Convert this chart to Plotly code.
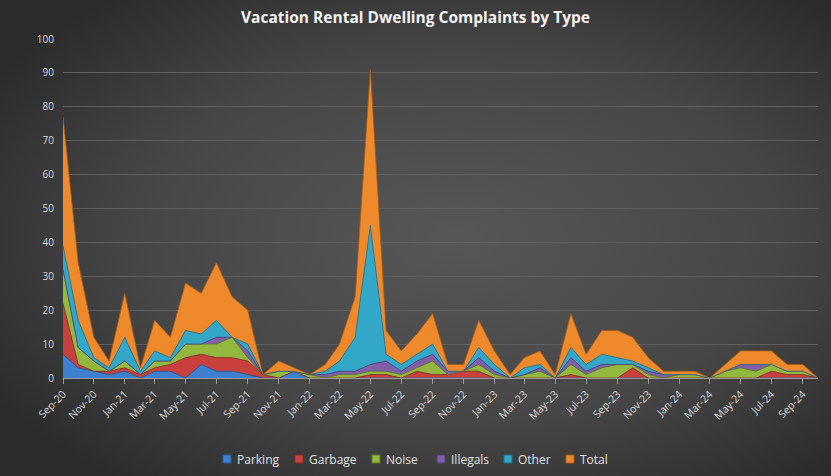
import base64
import pandas as pd
import plotly.graph_objects as go

months = pd.date_range("2020-09-01", periods=50, freq="MS")

parking  = [7, 3, 2, 1, 2, 0, 2, 2, 0, 4, 2, 2, 1, 0, 0, 2, 0, 0, 0, 0,
            0, 0, 0, 0, 0, 0, 0, 0, 0, 0, 0, 0, 0, 0, 0, 0, 0, 0, 0, 0,
            0, 0, 0, 0, 0, 0, 0, 0, 0, 0]
garbage  = [15, 1, 0, 1, 1, 1, 1, 2, 6, 3, 4, 4, 4, 1, 0, 0, 0, 0, 0, 0,
            1, 1, 0, 2, 1, 1, 2, 2, 0, 0, 0, 0, 0, 1, 0, 0, 0, 3, 0, 0,
            0, 0, 0, 0, 0, 0, 2, 1, 1, 0]
noise    = [10, 5, 3, 0, 2, 0, 2, 1, 4, 3, 4, 6, 1, 0, 2, 0, 1, 0, 1, 1,
            1, 1, 1, 1, 4, 0, 0, 2, 1, 0, 1, 2, 0, 3, 1, 3, 4, 1, 1, 0,
            1, 1, 0, 2, 3, 2, 2, 1, 1, 0]
illegals = [0, 0, 0, 0, 0, 0, 0, 0, 0, 0, 2, 0, 2, 0, 0, 0, 0, 1, 1, 1,
            2, 3, 1, 2, 2, 1, 0, 2, 1, 0, 0, 1, 0, 2, 1, 1, 0, 0, 1, 1,
            0, 0, 0, 0, 1, 2, 0, 0, 0, 0]
other    = [7, 8, 1, 1, 7, 1, 3, 1, 4, 3, 5, 0, 2, 0, 0, 0, 0, 1, 3, 10,
            41, 2, 2, 2, 3, 0, 0, 3, 2, 0, 2, 1, 0, 3, 2, 3, 2, 1, 1, 0,
            0, 0, 0, 0, 0, 0, 0, 0, 0, 0]
total    = [38, 17, 6, 2, 13, 1, 9, 6, 14, 12, 17, 12, 10, 0, 3, 1, 0, 2, 5, 12,
            46, 7, 4, 6, 9, 2, 2, 8, 4, 1, 3, 4, 1, 10, 3, 7, 8, 7, 3, 1,
            1, 1, 0, 2, 4, 4, 4, 2, 2, 0]

tick_dates = months[::2]
tick_labels = ["Sep-20", "Nov-20", "Jan-21", "Mar-21", "May-21", "Jul-21", "Sep-21",
               "Nov-21", "Jan-22", "Mar-22", "May-22", "Jul-22", "Sep-22", "Nov-22",
               "Jan-23", "Mar-23", "May-23", "Jul-23", "Sep-23", "Nov-23", "Jan-24",
               "Mar-24", "May-24", "Jul-24", "Sep-24"]

series = [
    ("Parking", parking, "#3f7fcf", "#2a5a99"),
    ("Garbage", garbage, "#c8413c", "#8a2a27"),
    ("Noise", noise, "#92b83f", "#607a2a"),
    ("Illegals", illegals, "#7f5faa", "#553f75"),
    ("Other", other, "#33a7c8", "#1f7290"),
    ("Total", total, "#ee8a2c", "#a85a18"),
]

W, H = 831, 476
L, R, T, B = 63, 13, 39, 98
pw, ph = W - L - R, H - T - B

fig = go.Figure()
for name, vals, col, edge in series:
    fig.add_trace(go.Scatter(
        x=months, y=vals, name=name, mode="lines", stackgroup="one",
        fillcolor=col, line=dict(color=edge, width=0.8), showlegend=False,
    ))

# custom legend (small square markers + labels), positions in pixels
legend_icon_x = [223, 295, 372, 437, 504, 566]
legend_y = 459
shapes, annotations = [], []
for (name, _, col, edge), ix in zip(series, legend_icon_x):
    x0 = (ix - L) / pw
    x1 = (ix + 8 - L) / pw
    y0 = (H - B - (legend_y + 4)) / ph
    y1 = (H - B - (legend_y - 4)) / ph
    shapes.append(dict(type="rect", xref="paper", yref="paper", x0=x0, x1=x1,
                       y0=y0, y1=y1, fillcolor=col, line=dict(color=edge, width=1)))
    annotations.append(dict(text=name, xref="paper", yref="paper",
                            x=(ix + 12 - L) / pw, y=(H - B - legend_y) / ph,
                            xanchor="left", yanchor="middle", showarrow=False,
                            font=dict(family="Open Sans", size=12, color="#e0e0e0")))

svg = f'''<svg xmlns="http://www.w3.org/2000/svg" width="{W}" height="{H}" viewBox="0 0 {W} {H}">
<defs><radialGradient id="g" cx="55%" cy="50%" r="65%">
<stop offset="0%" stop-color="#575757"/><stop offset="60%" stop-color="#464646"/>
<stop offset="100%" stop-color="#2c2c2c"/></radialGradient></defs>
<rect width="{W}" height="{H}" fill="url(#g)"/></svg>'''
uri = "data:image/svg+xml;base64," + base64.b64encode(svg.encode()).decode()

fig.update_layout(
    width=W, height=H,
    margin=dict(l=L, r=R, t=T, b=B, pad=0, autoexpand=False),
    paper_bgcolor="#3c3c3c",
    plot_bgcolor="rgba(0,0,0,0)",
    images=[dict(source=uri, xref="paper", yref="paper",
                 x=-L / pw, y=1 + T / ph, sizex=W / pw, sizey=H / ph,
                 sizing="stretch", layer="below", xanchor="left", yanchor="top")],
    title=dict(text="<b>Vacation Rental Dwelling Complaints by Type</b>",
               x=0.5, xanchor="center", y=0.963, yanchor="middle",
               font=dict(family="Open Sans", size=15.5, color="#f2f2f2")),
    font=dict(family="Open Sans", color="#d9d9d9", size=10),
    showlegend=False,
    shapes=shapes,
    annotations=annotations,
    hovermode=False,
)
fig.update_xaxes(
    type="date", range=[months[0], months[-1]], automargin=False,
    tickvals=list(tick_dates), ticktext=tick_labels, tickangle=-45,
    ticks="outside", ticklen=5, tickcolor="#9a9a9a",
    showline=True, linecolor="#9a9a9a", linewidth=1,
    showgrid=False, zeroline=False,
    tickfont=dict(size=10.5, color="#d9d9d9"),
)
fig.update_yaxes(
    range=[0, 100], dtick=10, showgrid=True, gridcolor="#5f5f5f", gridwidth=1,
    zeroline=False, showline=False, ticks="", ticklabelstandoff=8, automargin=False,
    tickfont=dict(size=10, color="#d9d9d9"),
)

fig.write_html("out.html")
